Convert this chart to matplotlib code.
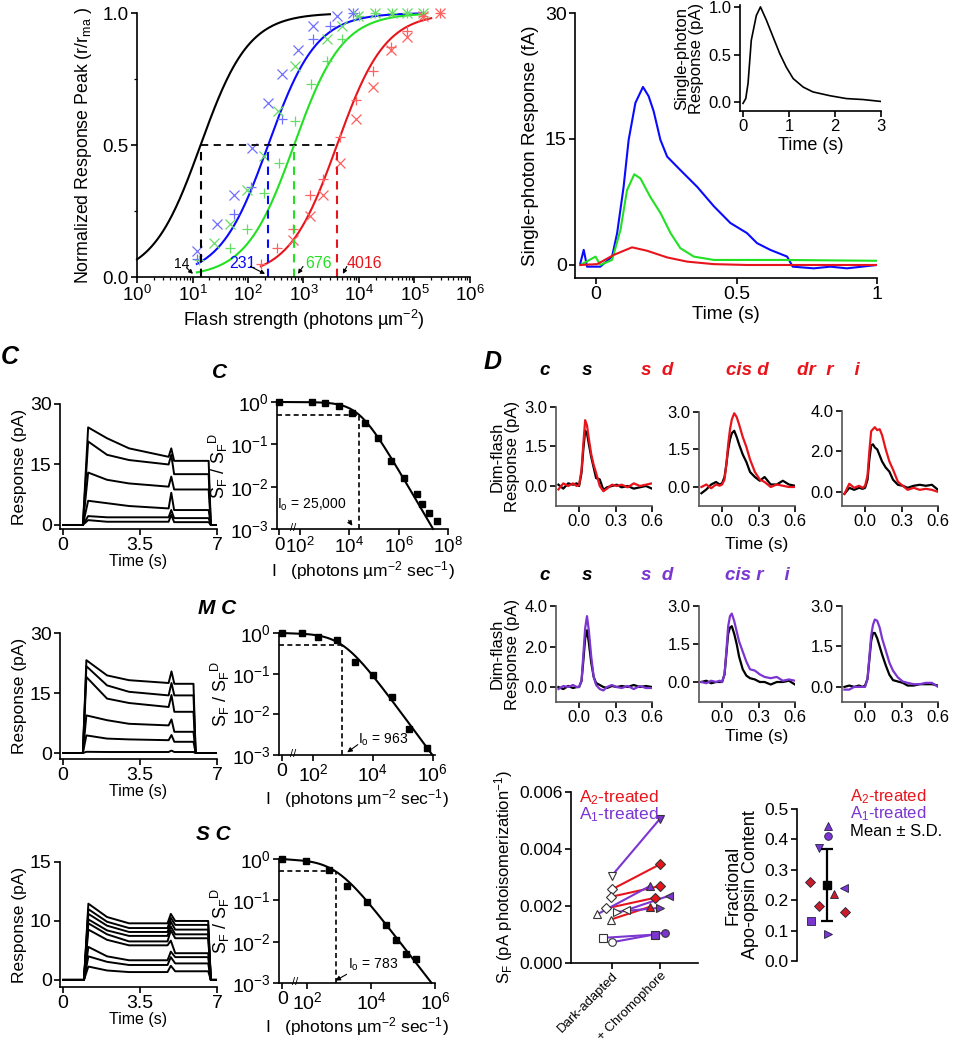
import numpy as np
import matplotlib
matplotlib.use('Agg')
import matplotlib.pyplot as plt
from matplotlib.ticker import LogLocator, NullFormatter, LogFormatterMathtext

plt.rcParams['font.family'] = ['Liberation Sans', 'DejaVu Sans']
plt.rcParams['mathtext.fontset'] = 'custom'
plt.rcParams['mathtext.rm'] = 'Liberation Sans'
plt.rcParams['mathtext.it'] = 'Liberation Sans:italic'
plt.rcParams['mathtext.bf'] = 'Liberation Sans:bold'

# ---------------- DATA ----------------
# Panel A: intensity-response
half_sat = [14, 231, 676, 4016]
half_labels = ['14', '231', '676', '4016']
blue_x_I = [12, 28, 55, 117, 229, 407, 794, 1514, 4074, 7943]
blue_x_r = [0.10, 0.20, 0.31, 0.49, 0.66, 0.77, 0.86, 0.95, 0.99, 1.0]
blue_p_I = [12, 55, 112, 407, 1514, 2951, 7943]
blue_p_r = [0.07, 0.24, 0.34, 0.60, 0.90, 0.95, 1.0]
green_x_I = [24, 48, 95, 191, 347, 708, 2630, 4898, 9772, 19498, 38905, 72444, 141254]
green_x_r = [0.13, 0.20, 0.33, 0.46, 0.63, 0.80, 0.90, 0.95, 0.99, 1.0, 1.0, 1.0, 1.0]
green_p_I = [13, 48, 95, 191, 355, 708, 1349, 2692, 4898, 10000, 19498, 38905, 72444, 141254]
green_p_r = [0.065, 0.11, 0.18, 0.32, 0.43, 0.59, 0.73, 0.82, 0.90, 0.99, 1.0, 1.0, 1.0, 1.0]
red_x_I = [646, 1288, 2291, 4571, 8913, 17783, 37154, 74131, 141254, 288403]
red_x_r = [0.14, 0.23, 0.31, 0.43, 0.60, 0.72, 0.86, 0.91, 0.99, 1.0]
red_p_I = [170, 331, 646, 1288, 2291, 4571, 8913, 17783, 37154, 74131, 141254, 288403]
red_p_r = [0.05, 0.11, 0.18, 0.31, 0.37, 0.53, 0.67, 0.78, 0.87, 0.93, 0.99, 1.0]
fit_ranges = [(1, 3000), (12, 150000), (12, 150000), (170, 200000)]

# Panel B: single-photon responses (fA)
blue_t = [-0.056, -0.044, -0.032, 0.015, 0.057, 0.075, 0.098, 0.116, 0.14, 0.167, 0.187, 0.205, 0.229, 0.253,
          0.30, 0.36, 0.419, 0.478, 0.537, 0.573, 0.62, 0.68, 0.70, 0.775, 0.834, 0.893, 1.0]
blue_v = [0.2, 1.8, -0.2, -0.2, 1.0, 3.8, 9.3, 14.9, 19.3, 21.2, 20.1, 18.3, 14.9, 12.9,
          11.3, 9.3, 7.0, 5.0, 3.8, 2.6, 1.8, 1.0, -0.2, -0.4, -0.2, -0.4, 0.0]
green_t = [-0.056, -0.002, 0.015, 0.057, 0.087, 0.11, 0.136, 0.158, 0.193, 0.229, 0.265, 0.30, 0.348, 0.419,
           0.537, 0.656, 1.0]
green_v = [0.0, 1.0, 0.0, 0.6, 4.2, 8.9, 10.8, 10.3, 8.1, 6.2, 3.8, 2.0, 1.0, 0.6, 0.6, 0.6, 0.5]
red_t = [-0.056, 0.004, 0.063, 0.128, 0.181, 0.253, 0.324, 0.419, 0.537, 1.0]
red_v = [0.0, 0.1, 1.2, 2.1, 1.7, 0.9, 0.4, 0.1, 0.0, 0.0]
inset_t = [0, 0.06, 0.11, 0.18, 0.29, 0.38, 0.51, 0.65, 0.80, 0.94, 1.09, 1.31, 1.52, 1.89, 2.25, 2.61, 3.0]
inset_v = [-0.01, 0.04, 0.2, 0.65, 0.91, 1.0, 0.86, 0.69, 0.51, 0.37, 0.25, 0.16, 0.11, 0.07, 0.04, 0.03, 0.01]

# Panel C: step responses (pA) at knot times
c1_knots = [0, 0.9, 1.14, 2.0, 3.0, 4.8, 4.92, 5.05, 6.62, 6.72, 7.0]
c1_peak = [24.2, 20.7, 13.0, 6.0, 2.2, 1.2]
c1_t2 = [21.5, 17.4, 11.2, 5.4, 1.9, 0.8]
c1_t3 = [19.0, 16.1, 10.3, 4.7, 1.9, 0.8]
c1_t48 = [16.9, 15.0, 9.5, 4.1, 1.9, 0.8]
c1_spike = [19.0, 17.4, 12.0, 8.0, 3.7, 2.5]
c1_after = [15.9, 12.6, 8.8, 3.7, 1.7, 0.7]

c2_knots = [0, 0.9, 1.06, 2.0, 3.0, 4.8, 4.93, 5.06, 5.93, 6.03, 7.0]
c2_peak = [23.2, 21.7, 19.0, 9.4, 4.4, 0.3]
c2_t2 = [19.4, 16.9, 13.6, 8.2, 3.6, 0.25]
c2_t3 = [18.2, 15.3, 12.5, 7.3, 3.4, 0.25]
c2_t48 = [17.5, 14.4, 11.5, 6.9, 3.2, 0.25]
c2_spike = [20.4, 17.5, 14.5, 8.4, 4.5, 0.6]
c2_after = [17.3, 14.4, 10.3, 5.3, 2.8, 0.25]

c3_knots = [0, 0.95, 1.15, 2.0, 3.0, 4.75, 4.9, 5.1, 6.6, 6.72, 7.0]
c3_peak = [9.7, 9.0, 8.4, 7.7, 7.2, 6.4, 4.2, 3.0, 1.7]
c3_t2 = [8.0, 7.4, 6.9, 6.3, 5.8, 5.1, 3.0, 2.3, 1.2]
c3_t3 = [7.2, 6.6, 6.1, 5.6, 4.9, 4.4, 2.5, 1.9, 1.0]
c3_t48 = [7.2, 6.6, 6.1, 5.6, 4.9, 4.4, 2.5, 1.9, 1.0]
c3_spike = [8.4, 7.9, 7.4, 6.8, 6.3, 5.0, 3.6, 2.9, 1.8]
c3_after = [7.5, 7.0, 6.4, 5.8, 5.3, 3.4, 2.9, 2.1, 1.1]

# Panel C right: S_F / S_F^D vs log10(I); first point is the "0" background
c1_logI = [1.17, 2.48, 3.04, 3.57, 4.11, 4.65, 5.15, 5.71, 6.21, 6.75, 6.96, 7.24, 7.55]
c1_logS = [0.0, 0.0, -0.016, -0.10, -0.25, -0.49, -0.86, -1.39, -1.80, -2.18, -2.41, -2.62, -2.80]
c2_logI = [0.97, 1.62, 2.18, 2.81, 3.40, 4.01, 4.62, 5.21, 5.81]
c2_logS = [0.0, 0.0, -0.10, -0.18, -0.71, -1.04, -1.57, -2.35, -2.84]
c3_logI = [1.22, 1.97, 2.67, 3.24, 3.88, 4.47, 4.78, 5.09, 5.41]
c3_logS = [0.0, -0.06, -0.26, -0.66, -1.05, -1.60, -1.95, -2.30, -2.41]
I0_values = [25000, 963, 783]
I0_labels = ['25,000', '963', '783']

# Panel D: dim-flash responses (pA)
dim_t = [-0.17, -0.13, -0.09, -0.05, -0.02, 0.0, 0.02, 0.035, 0.05, 0.065, 0.08, 0.1, 0.12, 0.14,
         0.17, 0.2, 0.23, 0.27, 0.31, 0.35, 0.4, 0.45, 0.5, 0.55, 0.6]
d11_col = [-0.13, 0.1, 0.0, 0.1, 0.0, 0.04, 0.6, 1.6, 2.5, 2.3, 1.8, 1.2, 0.8, 0.5, 0.0, -0.2, -0.1, 0.05, 0.0, 0.05, -0.05, 0.1, 0.0, 0.05, 0.1]
d11_blk = [0.05, -0.1, 0.1, 0.05, 0.1, 0.0, 0.5, 1.4, 2.1, 2.0, 1.6, 1.1, 0.7, 0.3, 0.25, -0.15, -0.05, 0.0, 0.05, -0.05, 0.0, -0.1, -0.05, 0.0, -0.1]
d12_col = [0.0, 0.1, -0.05, 0.1, 0.05, 0.1, 0.3, 0.9, 1.7, 2.3, 2.7, 2.95, 2.8, 2.5, 2.0, 1.6, 1.1, 0.6, 0.3, 0.2, 0.0, 0.1, 0.05, 0.0, 0.0]
d12_blk = [-0.25, -0.1, 0.1, 0.2, 0.1, 0.15, 0.4, 0.9, 1.5, 1.9, 2.15, 2.25, 2.0, 1.7, 1.3, 1.0, 0.6, 0.4, 0.25, 0.4, 0.1, 0.1, 0.25, 0.1, 0.05]
d13_col = [-0.1, 0.4, 0.2, 0.3, 0.2, 0.3, 0.8, 2.0, 3.0, 3.1, 3.2, 3.05, 3.1, 2.8, 2.1, 1.5, 1.1, 0.5, 0.3, 0.1, 0.2, 0.1, 0.15, 0.1, 0.0]
d13_blk = [-0.1, 0.2, 0.1, 0.2, 0.15, 0.2, 0.6, 1.6, 2.3, 2.35, 2.2, 2.1, 1.8, 1.5, 1.2, 1.0, 0.6, 0.35, 0.3, 0.2, 0.3, 0.35, 0.3, 0.35, 0.1]
d21_col = [-0.1, 0.05, 0.0, 0.1, 0.0, 0.0, 0.3, 1.6, 2.9, 3.5, 2.8, 1.5, 0.5, 0.1, -0.1, -0.17, 0.0, 0.1, 0.0, -0.05, 0.05, -0.1, 0.05, -0.05, -0.05]
d21_blk = [0.0, -0.1, 0.05, -0.05, 0.0, 0.0, 0.3, 1.3, 2.4, 2.8, 2.2, 1.2, 0.5, 0.2, 0.1, 0.0, -0.05, 0.05, 0.0, 0.05, 0.0, 0.1, 0.0, 0.05, 0.0]
d22_col = [0.0, -0.05, 0.05, 0.0, 0.05, 0.0, 0.3, 1.2, 2.2, 2.6, 2.7, 2.4, 2.0, 1.6, 1.2, 0.8, 0.5, 0.45, 0.3, 0.2, 0.15, 0.2, 0.05, 0.1, 0.05]
d22_blk = [0.0, 0.05, -0.05, 0.0, 0.0, 0.0, 0.3, 1.1, 1.9, 2.15, 2.2, 1.9, 1.5, 1.0, 0.5, 0.25, 0.15, 0.1, 0.0, 0.0, -0.1, 0.0, 0.0, 0.05, -0.1]
d23_col = [-0.1, -0.1, 0.0, 0.0, 0.0, 0.0, 0.3, 1.1, 1.9, 2.3, 2.5, 2.45, 2.2, 1.8, 1.35, 0.9, 0.6, 0.35, 0.2, 0.15, 0.1, 0.1, 0.15, 0.15, 0.0]
d23_blk = [0.0, 0.05, 0.0, 0.05, 0.0, 0.05, 0.3, 1.0, 1.7, 2.0, 2.0, 1.8, 1.5, 1.2, 0.8, 0.45, 0.25, 0.2, 0.15, 0.05, 0.05, 0.1, 0.1, 0.1, 0.05]

# Panel D bottom-left: S_F before/after chromophore
sf_group = ['A2', 'A2', 'A2', 'A2', 'A1', 'A1', 'A1', 'A1', 'A1', 'A1']
sf_marker = ['D', 'D', 'D', '^', 'v', '^', '>', '<', 's', 'o']
sf_dark = [0.002583, 0.002325, 0.001914, 0.001526, 0.003065, 0.001703, 0.001797, 0.001855, 0.000881, 0.000728]
sf_chrom = [0.003464, 0.002701, 0.002290, 0.001973, 0.005061, 0.002701, 0.001937, 0.002360, 0.000998, 0.001068]
sf_jit_dark = [0.0, -0.01, -0.12, -0.02, 0.0, -0.31, 0.10, 0.30, -0.19, 0.0]
sf_jit_chrom = [0.0, 0.0, -0.10, -0.21, 0.0, -0.21, 0.0, 0.19, -0.10, 0.10]
categories = ['Dark-adapted', '+ Chromophore']

# Panel D bottom-right: fractional apo-opsin content
apo_group = ['A2', 'A2', 'A2', 'A2', 'A1', 'A1', 'A1', 'A1', 'A1', 'A1']
apo_marker = ['D', 'D', 'D', '^', '^', 'o', 'v', 's', '>', '<']
apo_val = [0.261, 0.182, 0.160, 0.222, 0.443, 0.410, 0.371, 0.131, 0.090, 0.239]
apo_jit = [0.22, 0.37, 0.80, 0.62, 0.51, 0.51, 0.37, 0.23, 0.51, 0.79]
apo_mean = 0.25
apo_sd = 0.12

# ---------------- STYLE ----------------
W, H = 958, 1050
RED = '#e8141c'
PURPLE = '#7b35d0'
BLUE = '#0a0aff'
GREEN = '#22e022'
fig = plt.figure(figsize=(W / 100, H / 100), dpi=100)


def add_ax(x0, y0, x1, y1):
    return fig.add_axes([x0 / W, 1 - y1 / H, (x1 - x0) / W, (y1 - y0) / H])


def style(ax, fs=11):
    for s in ['top', 'right']:
        ax.spines[s].set_visible(False)
    for s in ['left', 'bottom']:
        ax.spines[s].set_linewidth(1.2)
    ax.tick_params(direction='out', labelsize=fs, width=1.2, length=4, pad=2)
    ax.tick_params(which='minor', direction='out', width=0.9, length=2.5)
    ax.patch.set_alpha(0)


def ftext(x, y, s, **kw):
    fig.text(x / W, 1 - y / H, s, **kw)


# ---------------- Panel A ----------------
ax = add_ax(137, 13, 470, 277)
style(ax, 13.5)
ax.set_xscale('log')
ax.set_xlim(1, 1e6)
ax.set_ylim(0, 1.0)
curve_cols = ['black', BLUE, GREEN, RED]
for ih, (lo, hi), c in zip(half_sat, fit_ranges, curve_cols):
    I = np.logspace(np.log10(lo), np.log10(hi), 200)
    ax.plot(I, I / (I + ih), color=c, lw=1.5, clip_on=False)
ax.plot(blue_x_I, blue_x_r, 'x', color='#7070ff', ms=6.5, mew=0.9, clip_on=False)
ax.plot(blue_p_I, blue_p_r, '+', color='#7070ff', ms=6.5, mew=0.9, clip_on=False)
ax.plot(green_x_I, green_x_r, 'x', color='#66dd66', ms=6.5, mew=0.9, clip_on=False)
ax.plot(green_p_I, green_p_r, '+', color='#66dd66', ms=6.5, mew=0.9, clip_on=False)
ax.plot(red_x_I, red_x_r, 'x', color='#ff6060', ms=6.5, mew=0.9, clip_on=False)
ax.plot(red_p_I, red_p_r, '+', color='#ff6060', ms=6.5, mew=0.9, clip_on=False)
ax.plot([half_sat[0], half_sat[-1]], [0.5, 0.5], '--', color='black', lw=1.3, dashes=(4, 3))
for ih, c in zip(half_sat, curve_cols):
    ax.plot([ih, ih], [0, 0.5], '--', color=c, lw=1.5, dashes=(4, 3))
lab_pos = [(6.3, 0.05), (78, 0.05), (1900, 0.05), (12500, 0.05)]
arr_from = [(7.8, 0.035), (110, 0.04), (980, 0.04), (6030, 0.04)]
arr_to = [(10.2, 0.012), (203, 0.012), (795, 0.012), (5130, 0.012)]
for lab, p, a0, a1, c in zip(half_labels, lab_pos, arr_from, arr_to, curve_cols):
    ax.text(p[0], p[1], lab, color=c, fontsize=10 if c == 'black' else 11.5, ha='center', va='center')
    ax.annotate('', xy=a1, xytext=a0, arrowprops=dict(arrowstyle='-|>', color='black', lw=0.8,
                                                       mutation_scale=6, shrinkA=0, shrinkB=0))
ax.set_yticks([0, 0.5, 1.0])
ax.set_yticklabels(['0.0', '0.5', '1.0'])
ax.set_yticks([0.25, 0.75], minor=True)
ax.xaxis.set_major_locator(LogLocator(base=10, numticks=10))
ax.xaxis.set_minor_locator(LogLocator(base=10, subs=np.arange(2, 10), numticks=100))
ax.xaxis.set_minor_formatter(NullFormatter())
ax.set_xlabel('Flash strength (photons µm$^{-2}$)', fontsize=13, labelpad=2)
ax.set_ylabel(r'Normalized Response Peak (r/r$_\mathrm{ma}$ )', fontsize=12.8, labelpad=6)

# ---------------- Panel B ----------------
ax = add_ax(575, 13, 877, 278)
style(ax, 14)
ax.set_xlim(-0.075, 1.0)
ax.set_ylim(-1.55, 30)
ax.plot(blue_t, blue_v, color=BLUE, lw=1.5)
ax.plot(green_t, green_v, color=GREEN, lw=1.5)
ax.plot(red_t, red_v, color=RED, lw=1.5)
ax.set_yticks([0, 15, 30])
ax.set_xticks([0, 0.5, 1])
ax.set_xticklabels(['0', '0.5', '1'])
ax.set_ylabel('Single-photon Response (fA)', fontsize=13.5, labelpad=4)
ax.set_xlabel('Time (s)', fontsize=13.5, labelpad=2)

axi = add_ax(740, 5, 881, 111)
style(axi, 12)
axi.set_xlim(-0.065, 3.0)
axi.set_ylim(-0.09, 1.02)
axi.plot(inset_t, inset_v, color='black', lw=1.2)
axi.set_yticks([0, 0.5, 1.0])
axi.set_yticklabels(['0.0', '0.5', '1.0'])
axi.set_xticks([0, 1, 2, 3])
axi.set_xlabel('Time (s)', fontsize=13, labelpad=2)
axi.set_ylabel('Single-photon\nResponse (pA)', fontsize=12, labelpad=3, linespacing=1.0)

# ---------------- Panel C ----------------
ftext(10, 357, 'C', fontsize=18, fontweight='bold', fontstyle='italic', ha='center', va='center')
ftext(220, 372, 'C', fontsize=15, fontweight='bold', fontstyle='italic', ha='center', va='center')
ftext(217, 609, 'M C', fontsize=15, fontweight='bold', fontstyle='italic', ha='center', va='center')
ftext(213, 835, 'S C', fontsize=15, fontweight='bold', fontstyle='italic', ha='center', va='center')

rows_left = [
    ((60, 404, 217, 529), (-1.0, 30), c1_knots, c1_peak, c1_t2, c1_t3, c1_t48, c1_spike, c1_after, [0, 15, 30], ['0', '15', '30']),
    ((60, 633, 217, 759), (-1.5, 30), c2_knots, c2_peak, c2_t2, c2_t3, c2_t48, c2_spike, c2_after, [0, 15, 30], ['0', '15', '30']),
    ((60, 862, 217, 987), (-0.9, 15), c3_knots, c3_peak, c3_t2, c3_t3, c3_t48, c3_spike, c3_after, [0, 7.5, 15], ['0', '10', '15']),
]
for rect, yl, knots, pk, t2, t3, t48, sp, af, yt, ytl in rows_left:
    ax = add_ax(*rect)
    style(ax, 14)
    ax.set_xlim(-0.14, 7)
    ax.set_ylim(*yl)
    for i in range(len(pk)):
        vals = [0, 0, pk[i], t2[i], t3[i], t48[i], sp[i], af[i], af[i], 0, 0]
        ax.plot(knots, vals, color='black', lw=1.4)
    ax.set_yticks(yt)
    ax.set_yticklabels(ytl)
    ax.set_xticks([0, 3.5, 7])
    ax.set_xticklabels(['0', '3.5', '7'])
    ax.set_ylabel('Response (pA)', fontsize=12.5, labelpad=2)
    ax.set_xlabel('Time (s)', fontsize=11.5, labelpad=0)

rows_right = [
    ((277, 402, 448, 529), (1.08, 8.0), c1_logI, c1_logS, I0_values[0], I0_labels[0], [2, 4, 6, 8],
     (312, 505), (347, 518), (354, 528), 293),
    ((279, 633, 435, 755), (0.87, 6.07), c2_logI, c2_logS, I0_values[1], I0_labels[1], [2, 4, 6],
     (383, 740), (360, 743), (345, 754), 293),
    ((279, 859, 435, 983), (1.12, 6.0), c3_logI, c3_logS, I0_values[2], I0_labels[2], [2, 4, 6],
     (373, 965), (349, 973), (333, 982), 295),
]
for k, (rect, xl, lx, ly, I0, I0lab, xt, tpos, a0, a1, brk) in enumerate(rows_right):
    ax = add_ax(*rect)
    style(ax, 14)
    ax.set_yscale('log')
    ax.set_xlim(*xl)
    ax.set_ylim(1e-3, 1.0)
    x0 = lx[0]
    logI0 = np.log10(I0)
    xs = np.linspace(x0 + 0.6, xl[1], 300)
    fit = 1.0 / (1.0 + 10 ** xs / I0)
    keep = fit >= 1e-3
    ax.plot(np.r_[x0, xs[keep]], np.r_[1.0, fit[keep]], color='black', lw=1.5, clip_on=False)
    ax.plot(lx, [10 ** v for v in ly], 's', color='black', ms=4.8, clip_on=False)
    ax.plot([xl[0], logI0], [0.5, 0.5], '--', color='black', lw=1.2, dashes=(3, 2))
    ax.plot([logI0, logI0], [1e-3, 0.5], '--', color='black', lw=1.2, dashes=(3, 2))
    ax.set_xticks([x0] + xt)
    ax.set_xticklabels(['0'] + ['10$^{%d}$' % v for v in xt], fontsize=13.5 if k == 0 else 14)
    ax.set_yticks([1, 0.1, 0.01, 0.001])
    ax.yaxis.set_major_formatter(LogFormatterMathtext())
    ax.yaxis.set_minor_formatter(NullFormatter())
    ax.tick_params(axis='y', which='minor', length=0)
    ax.set_ylabel(r'S$_\mathrm{F}$ / S$_\mathrm{F}$$^\mathrm{D}$', fontsize=13, labelpad=0)
    ax.set_xlabel(r'I   (photons µm$^{-2}$ sec$^{-1}$)', fontsize=12.5, labelpad=1)
    ftext(tpos[0], tpos[1], r'I$_\mathrm{o}$ = ' + I0lab, fontsize=10, ha='center', va='center')
    fig.add_artist(matplotlib.patches.FancyArrowPatch((a0[0] / W, 1 - a0[1] / H), (a1[0] / W, 1 - a1[1] / H),
                                                      transform=fig.transFigure, arrowstyle='-|>',
                                                      mutation_scale=7, color='black', lw=0.8))
    ftext(brk, rect[3] - 1, '//', fontsize=8, ha='center', va='center')

# ---------------- Panel D ----------------
ftext(493, 362, 'D', fontsize=18, fontweight='bold', fontstyle='italic', ha='center', va='center')
tkw = dict(fontsize=13.5, fontweight='bold', fontstyle='italic', ha='center', va='center')
ftext(545, 370, 'c', color='black', **tkw)
ftext(587, 370, 's', color='black', **tkw)
ftext(657, 370, 's  d', color=RED, **tkw)
ftext(747, 370, 'cis d', color=RED, **tkw)
ftext(828, 370, 'dr  r    i', color=RED, **tkw)
ftext(545, 576, 'c', color='black', **tkw)
ftext(587, 576, 's', color='black', **tkw)
ftext(657, 576, 's  d', color=PURPLE, **tkw)
ftext(757, 576, 'cis r    i', color=PURPLE, **tkw)

dim_panels = [
    ((556, 407, 652, 506), (-0.76, 3.0), [0, 1.5, 3.0], d11_blk, d11_col, RED),
    ((699, 412, 795, 506), (-0.76, 3.0), [0, 1.5, 3.0], d12_blk, d12_col, RED),
    ((842, 411, 938, 506), (-0.70, 4.0), [0, 2.0, 4.0], d13_blk, d13_col, RED),
    ((556, 606, 652, 702), (-0.74, 4.0), [0, 2.0, 4.0], d21_blk, d21_col, PURPLE),
    ((699, 606, 795, 702), (-0.79, 3.0), [0, 1.5, 3.0], d22_blk, d22_col, PURPLE),
    ((842, 606, 938, 702), (-0.56, 3.0), [0, 1.5, 3.0], d23_blk, d23_col, PURPLE),
]
for k, (rect, yl, yt, blk, col, cc) in enumerate(dim_panels):
    ax = add_ax(*rect)
    style(ax, 12)
    ax.spines['left'].set_color('#555555')
    ax.spines['bottom'].set_color('#555555')
    ax.set_xlim(-0.19, 0.6)
    ax.set_ylim(*yl)
    ax.plot(dim_t, blk, color='black', lw=1.6)
    ax.plot(dim_t, col, color=cc, lw=1.6)
    ax.set_yticks(yt)
    ax.set_yticklabels(['%.1f' % v for v in yt])
    ax.set_xticks([0, 0.3, 0.6])
    ax.set_xticklabels(['0.0', '0.3', '0.6'])
    if k % 3 == 0:
        ax.set_ylabel('Dim-flash\nResponse (pA)', fontsize=12, labelpad=3, linespacing=1.05)

ftext(757, 545, 'Time (s)', fontsize=12.5, ha='center', va='center')
ftext(757, 737, 'Time (s)', fontsize=12.5, ha='center', va='center')

# bottom-left S_F
ax = add_ax(571, 792, 698, 963)
style(ax, 12.5)
ax.set_xlim(-0.85, 1.79)
ax.set_ylim(0, 0.006)
for g, m, d, c, jd, jc in zip(sf_group, sf_marker, sf_dark, sf_chrom, sf_jit_dark, sf_jit_chrom):
    col = RED if g == 'A2' else PURPLE
    ax.plot([0 + jd, 1 + jc], [d, c], color=col, lw=1.5, zorder=2)
    ax.plot([0 + jd], [d], m, mfc='white', mec='#333333', ms=5.5, mew=0.8, zorder=3)
    ax.plot([1 + jc], [c], m, mfc=col, mec='#333333', ms=5.5, mew=0.8, zorder=3)
ax.set_yticks([0, 0.002, 0.004, 0.006])
ax.set_yticklabels(['0.000', '0.002', '0.004', '0.006'])
ax.set_xticks([0, 1])
ax.set_xticklabels(categories, rotation=45, ha='right', rotation_mode='anchor', fontsize=9.5)
ax.tick_params(axis='x', pad=1)
ax.set_ylabel(r'S$_\mathrm{F}$ (pA photoisomerization$^{-1}$)', fontsize=12, labelpad=3)
ftext(579, 798, r'A$_\mathrm{2}$-treated', color=RED, fontsize=12.5, ha='left', va='center')
ftext(579, 815, r'A$_\mathrm{1}$-treated', color=PURPLE, fontsize=12.5, ha='left', va='center')

# bottom-right apo-opsin
ax = add_ax(797, 809, 857, 961)
style(ax, 12.5)
ax.spines['bottom'].set_visible(False)
ax.set_xticks([])
ax.set_xlim(0, 1)
ax.set_ylim(0, 0.5)
for g, m, v, j in zip(apo_group, apo_marker, apo_val, apo_jit):
    col = '#c81e28' if g == 'A2' else PURPLE
    ax.plot([j], [v], m, mfc=col, mec='#222244', ms=5.5, mew=0.6, clip_on=False)
ax.errorbar([0.5], [apo_mean], yerr=[apo_sd], fmt='s', color='black', ms=5.5, capsize=4, lw=1.6, capthick=1.6)
ax.set_yticks([0, 0.1, 0.2, 0.3, 0.4, 0.5])
ax.set_yticklabels(['0.0', '0.1', '0.2', '0.3', '0.4', '0.5'])
ax.set_ylabel('Fractional\nApo-opsin Content', fontsize=13, labelpad=4, linespacing=1.05)
ftext(850, 797, r'A$_\mathrm{2}$-treated', color=RED, fontsize=12, ha='left', va='center')
ftext(850, 814, r'A$_\mathrm{1}$-treated', color=PURPLE, fontsize=12, ha='left', va='center')
ftext(850, 831, 'Mean ± S.D.', color='black', fontsize=12, ha='left', va='center')

fig.savefig('out.png', dpi=100)
